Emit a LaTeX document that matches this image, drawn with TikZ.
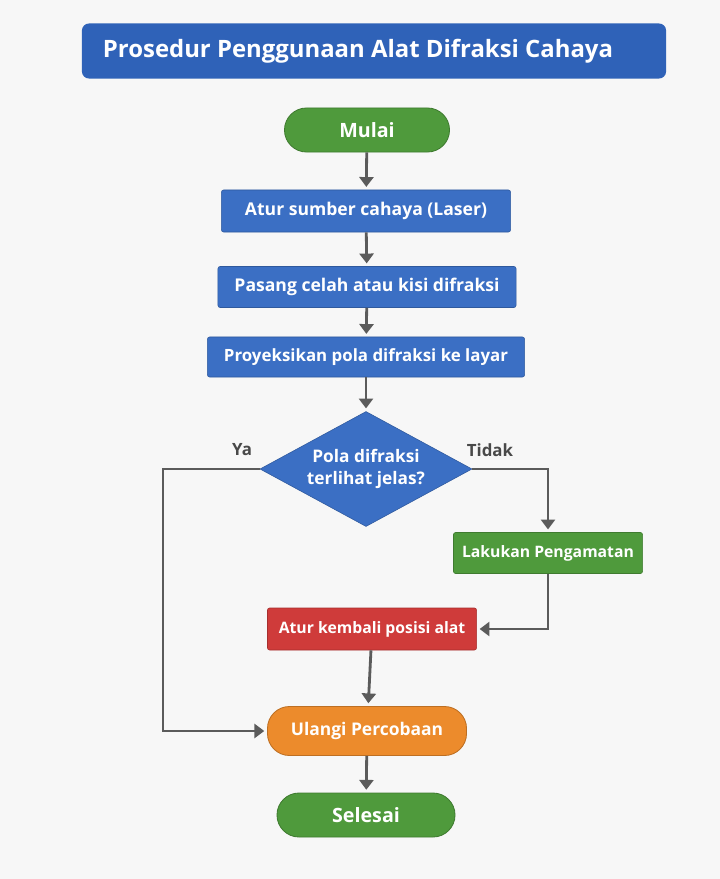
\documentclass[tikz,border=0pt]{standalone}
\usepackage{fontspec}
\setmainfont{Open Sans}
\usetikzlibrary{shapes.geometric,arrows.meta}

\definecolor{bgc}{HTML}{F7F7F7}
\definecolor{blu}{HTML}{3B6FC4}
\definecolor{titleblu}{HTML}{2F62B8}
\definecolor{grn}{HTML}{4F9A3C}
\definecolor{rd}{HTML}{CF3B3A}
\definecolor{org}{HTML}{EC8B2C}
\definecolor{arr}{HTML}{5B5B5B}

\begin{document}
\begin{tikzpicture}[x=0.025cm,y=-0.025cm,
	box/.style={rectangle, fill=blu, draw=blu!80!black, line width=0.4pt, text=white, font=\bfseries\fontsize{12.5}{15}\selectfont, inner sep=0pt, rounded corners=1.5pt},
	pill/.style={rectangle, draw=#1!80!black, fill=#1, line width=0.6pt, text=white, font=\bfseries\fontsize{14}{17}\selectfont, inner sep=0pt, rounded corners=0.55cm},
	dec/.style={diamond, fill=blu, draw=blu!80!black, text=white, font=\bfseries\fontsize{12.3}{15}\selectfont, align=center, inner sep=0pt, aspect=1.85},
	lab/.style={text=arr!80!black, font=\bfseries\fontsize{12}{14}\selectfont},
	line/.style={draw=arr, line width=2pt, -{Triangle[width=10pt,length=7pt]}, shorten >=2pt}
	]

	\fill[bgc] (0,0) rectangle (720,879);
	\useasboundingbox (0,0) rectangle (720,879);

	\node[rectangle, fill=titleblu, rounded corners=5pt, minimum width=14.6cm, minimum height=1.375cm] (title) at (374,51) {};
	\node[text=white, font=\bfseries\fontsize{17}{20}\selectfont] (titletext) at (358,51) {Prosedur Penggunaan Alat Difraksi Cahaya};

	\node[pill=grn, minimum width=4.125cm, minimum height=1.1cm] (mulai) at (367,130) {Mulai};
	\node[box, minimum width=7.225cm, minimum height=1.05cm] (sumber) at (366,211) {Atur sumber cahaya (Laser)};
	\node[box, minimum width=7.45cm, minimum height=1.025cm] (celah) at (367,287) {Pasang celah atau kisi difraksi};
	\node[box, minimum width=7.925cm, minimum height=1cm, font=\bfseries\fontsize{12}{15}\selectfont] (proyeksi) at (366,357) {Proyeksikan pola difraksi ke layar};
	\node[dec, minimum width=5.3cm, minimum height=2.875cm] (jelas) at (366,469) {Pola difraksi\\terlihat jelas?};
	\node[box, fill=grn, draw=grn!80!black, minimum width=4.725cm, minimum height=1.025cm, font=\bfseries\fontsize{11.2}{14}\selectfont] (amati) at (548,553) {Lakukan Pengamatan};
	\node[box, fill=rd, draw=rd!80!black, minimum width=5.225cm, minimum height=1.05cm, font=\bfseries\fontsize{11.2}{14}\selectfont] (posisi) at (372,629) {Atur kembali posisi alat};
	\node[pill=org, minimum width=4.975cm, minimum height=1.225cm, font=\bfseries\fontsize{12.4}{15}\selectfont] (ulangi) at (367,731) {Ulangi Percobaan};
	\node[pill=grn, minimum width=4.45cm, minimum height=1.1cm] (selesai) at (366,815) {Selesai};

	\node[lab] (ya) at (242,450) {Ya};
	\node[lab] (tidak) at (490,450) {Tidak};
	\coordinate (yabelok) at (163,469);

	\draw[line] (mulai) -- (sumber);
	\draw[line] (sumber) -- (celah);
	\draw[line] (celah) -- (proyeksi);
	\draw[line] (proyeksi) -- (jelas);
	\draw[line] (jelas.west) -- (yabelok) |- (ulangi.west);
	\draw[line] (jelas.east) -| (amati.north);
	\draw[line] (amati.south) |- (posisi.east);
	\draw[line] (posisi) -- (ulangi);
	\draw[line] (ulangi) -- (selesai);

\end{tikzpicture}
\end{document}
